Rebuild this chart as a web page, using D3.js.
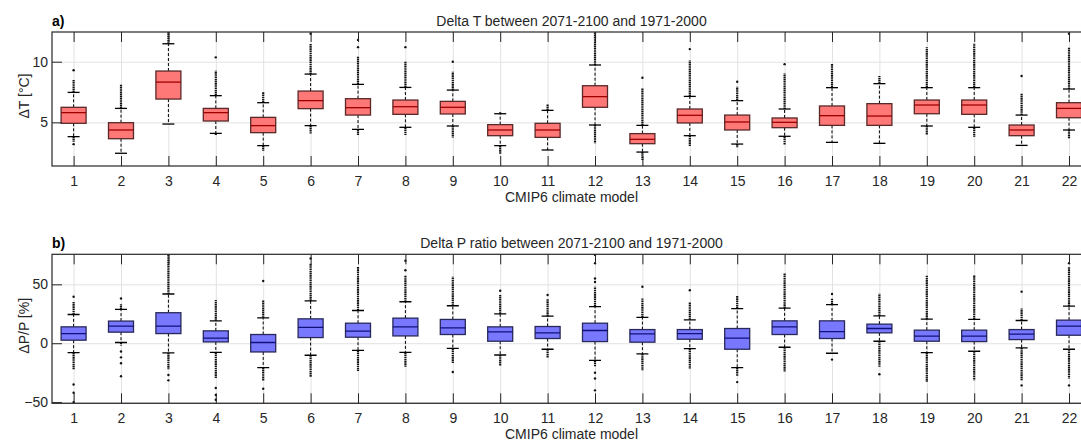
<!DOCTYPE html>
<html>
<head>
<meta charset="utf-8">
<script src="https://cdn.jsdelivr.net/npm/d3@7"></script>
<style>
  body { margin: 0; background: #fff; }
  text { font-family: "Liberation Sans", Arial, sans-serif; fill: #262626; }
</style>
</head>
<body>
<div class="chartDiv"></div>
<script>
"use strict"

// categories
var models = [1, 2, 3, 4, 5, 6, 7, 8, 9, 10, 11, 12, 13, 14, 15, 16, 17, 18, 19, 20, 21, 22];

// Delta T [°C]
var dtQ3     = [6.24, 4.97, 9.23, 6.15, 5.41, 7.58, 6.95, 6.84, 6.73, 4.81, 4.92, 8.02, 4.07, 6.10, 5.60, 5.36, 6.35, 6.54, 6.84, 6.84, 4.78, 6.62];
var dtMedian = [5.80, 4.37, 8.32, 5.80, 4.73, 6.79, 6.21, 6.29, 6.24, 4.37, 4.37, 7.12, 3.60, 5.58, 5.03, 5.00, 5.55, 5.52, 6.43, 6.43, 4.37, 6.15];
var dtQ1     = [4.92, 3.65, 6.92, 5.11, 4.15, 6.13, 5.60, 5.66, 5.69, 3.90, 3.76, 6.24, 3.24, 4.95, 4.37, 4.56, 4.75, 4.75, 5.71, 5.66, 3.90, 5.38];
var dtWhiskHi = [7.47, 6.15, 11.48, 7.20, 6.62, 8.98, 8.13, 7.88, 7.66, 5.71, 5.99, 9.73, 4.75, 7.14, 6.79, 6.10, 7.86, 8.19, 7.86, 7.86, 5.60, 7.75];
var dtWhiskLo = [3.82, 2.45, 4.86, 4.09, 3.08, 4.73, 4.42, 4.59, 4.70, 3.08, 2.72, 4.78, 2.55, 3.90, 3.21, 3.85, 3.35, 3.27, 4.70, 4.59, 3.10, 4.37];
var dtOutHi  = [8.5, 8.1, 12.5, 9.26, 7.53, 11.5, 10.4, 10.0, 9.18, 5.9, 6.48, 12.5, 7.8, 10.1, 7.94, 9.04, 9.86, 8.82, 11.2, 11.5, 7.39, 11.2];
var dtOutLo  = [3.4, 2.45, 4.86, 3.95, 2.66, 4.09, 3.95, 3.95, 3.76, 2.39, 2.72, 3.27, 1.9, 3.0, 2.94, 3.13, 3.35, 3.27, 3.95, 3.82, 3.10, 3.68];
var dtFarHi  = [[9.3], [], [], [10.36], [], [12.3], [11.2, 11.8], [11.2], [10.0], [], [], [], [8.68], [11.04], [8.35], [9.8], [], [], [], [], [8.82], [12.3]];
var dtFarLo  = [[3.2], [], [], [], [], [], [], [], [], [], [], [], [], [], [], [], [], [], [], [], [], []];

// Delta P / P [%]
var dpQ3     = [13.9, 18.8, 25.9, 10.5, 7.4, 20.7, 17.0, 21.3, 20.2, 13.9, 14.2, 17.0, 11.6, 11.6, 12.5, 19.0, 19.0, 16.2, 11.1, 11.1, 11.6, 19.6];
var dpMedian = [8.2, 14.5, 14.5, 4.3, 0.6, 13.4, 10.2, 13.9, 13.1, 9.7, 8.8, 10.8, 8.0, 8.2, 4.3, 13.9, 9.9, 12.5, 6.0, 6.0, 7.7, 14.5];
var dpQ1     = [2.6, 9.4, 8.2, 1.1, -7.4, 4.8, 5.1, 6.2, 7.4, 1.7, 4.0, 1.4, 0.9, 3.4, -5.1, 7.4, 4.0, 8.8, 1.7, 1.4, 3.1, 6.8];
var dpWhiskHi = [24.4, 28.7, 41.8, 19.0, 21.6, 36.0, 27.8, 35.2, 31.8, 25.0, 23.0, 31.0, 21.9, 19.9, 29.3, 29.8, 32.7, 23.3, 20.5, 20.2, 19.3, 31.5];
var dpWhiskLo = [-8.0, 0.6, -8.2, -7.7, -20.7, -10.2, -6.0, -7.7, -4.3, -10.0, -5.1, -14.5, -9.1, -4.5, -20.7, -3.4, -8.5, 1.7, -8.0, -6.8, -4.0, -5.1];
var dpOutHi  = [35, 33, 76, 36.6, 36.6, 68, 65, 58, 56.5, 41, 38, 48, 38, 35, 40, 59.4, 38, 42.3, 58, 58, 29.5, 65];
var dpOutLo  = [-22, -2, -22, -30, -32, -28.7, -23.6, -20, -17, -19.3, -12.5, -20, -23, -21.6, -28, -24.4, -8.5, -20, -33, -31.5, -32, -30];
var dpFarHi  = [[39.5], [38], [], [], [52.8], [72], [], [62, 70], [], [44.6], [41], [52, 55, 68, 75], [48], [45], [], [], [41.8], [], [], [], [43.8], [68]];
var dpFarLo  = [[-35, -42, -50], [-7, -12, -17, -28], [-27, -31.5], [-38, -44, -48], [-38.6], [], [], [], [-24.4], [], [], [-25, -30, -40], [], [], [-33], [], [-13.9], [-26.4], [], [], [-35.8], [-35.8]];

// tick labels
var dtTicks = [5, 10];
var dpTicks = [-50, 0, 50];

var width = 1081;
var height = 442;
var plotLeft = 52;
var plotRight = 1091;
var tickLen = 10;

var svgContainer = d3.select(".chartDiv").append("svg")
                    .attr("width", width)
                    .attr("height", height)
                    .attr("viewBox", "0 0 " + width + " " + height);

var xScale = d3.scaleLinear()
                .domain([1, 22])
                .range([73.6, 1069]);

var boxW = 25;
var capW = 12;

function drawPanel(opts)
{
    var top = opts.top, bottom = opts.bottom;
    var yScale = d3.scaleLinear().domain(opts.yDomain).range([bottom, top]);
    var g = svgContainer.append("g").attr("class", "panel " + opts.id);

    var clipId = "clip-" + opts.id;
    g.append("clipPath").attr("id", clipId)
        .append("rect")
        .attr("x", plotLeft).attr("y", top)
        .attr("width", plotRight - plotLeft).attr("height", bottom - top);

    // grid
    g.append("g")
        .attr("transform", "translate(0," + bottom + ")")
        .call(d3.axisBottom(xScale).tickValues(models).tickSize(-(bottom - top)).tickFormat(""))
        .call(function(s) { s.select(".domain").remove(); s.selectAll("line").attr("stroke", "#e2e2e2").attr("stroke-width", 1); });
    g.append("g")
        .attr("transform", "translate(" + plotLeft + ",0)")
        .call(d3.axisLeft(yScale).tickValues(opts.ticks).tickSize(-(plotRight - plotLeft)).tickFormat(""))
        .call(function(s) { s.select(".domain").remove(); s.selectAll("line").attr("stroke", "#e2e2e2").attr("stroke-width", 1); });

    var data = models.map(function(m, i)
    {
        return {m: m, q1: opts.q1[i], med: opts.med[i], q3: opts.q3[i], wLo: opts.wLo[i], wHi: opts.wHi[i],
                oLo: opts.oLo[i], oHi: opts.oHi[i], fHi: opts.fHi[i], fLo: opts.fLo[i]};
    });

    var marks = g.append("g").attr("clip-path", "url(#" + clipId + ")");

    var boxes = marks.selectAll(".boxGroup")
                    .data(data)
                    .enter()
                    .append("g")
                    .attr("class", "boxGroup")
                    .attr("transform", function(d) { return "translate(" + xScale(d.m) + ",0)" });

    // dense outlier runs
    boxes.append("line")
        .attr("y1", function(d) { return yScale(d.wHi) }).attr("y2", function(d) { return yScale(d.oHi) })
        .attr("stroke", "#111").attr("stroke-width", 2.2)
        .attr("stroke-dasharray", "1.6,0.6");
    boxes.append("line")
        .attr("y1", function(d) { return yScale(d.wLo) }).attr("y2", function(d) { return yScale(d.oLo) })
        .attr("stroke", "#111").attr("stroke-width", 2.2)
        .attr("stroke-dasharray", "1.6,0.6");

    // isolated outliers
    boxes.each(function(d)
    {
        d3.select(this).selectAll(".far")
            .data(d.fHi.concat(d.fLo))
            .enter()
            .append("circle")
            .attr("class", "far")
            .attr("cy", function(v) { return yScale(v) })
            .attr("r", 1.2)
            .attr("fill", "#111");
    });

    // whiskers
    boxes.append("line")
        .attr("y1", function(d) { return yScale(d.q3) }).attr("y2", function(d) { return yScale(d.wHi) })
        .attr("stroke", "#000").attr("stroke-width", 1).attr("stroke-dasharray", "3,2");
    boxes.append("line")
        .attr("y1", function(d) { return yScale(d.q1) }).attr("y2", function(d) { return yScale(d.wLo) })
        .attr("stroke", "#000").attr("stroke-width", 1).attr("stroke-dasharray", "3,2");
    boxes.append("line")
        .attr("x1", -capW / 2).attr("x2", capW / 2)
        .attr("y1", function(d) { return yScale(d.wHi) }).attr("y2", function(d) { return yScale(d.wHi) })
        .attr("stroke", "#000").attr("stroke-width", 1.3);
    boxes.append("line")
        .attr("x1", -capW / 2).attr("x2", capW / 2)
        .attr("y1", function(d) { return yScale(d.wLo) }).attr("y2", function(d) { return yScale(d.wLo) })
        .attr("stroke", "#000").attr("stroke-width", 1.3);

    // boxes
    boxes.append("rect")
        .attr("x", -boxW / 2).attr("width", boxW)
        .attr("y", function(d) { return yScale(d.q3) })
        .attr("height", function(d) { return yScale(d.q1) - yScale(d.q3) })
        .attr("fill", opts.fill)
        .attr("stroke", opts.edge).attr("stroke-width", 1.3);
    boxes.append("line")
        .attr("x1", -boxW / 2).attr("x2", boxW / 2)
        .attr("y1", function(d) { return yScale(d.med) }).attr("y2", function(d) { return yScale(d.med) })
        .attr("stroke", opts.medColor).attr("stroke-width", 1.3);

    // axes with inside ticks
    var axisColor = "#262626";
    var xAxis = g.append("g")
        .attr("transform", "translate(0," + bottom + ")")
        .call(d3.axisBottom(xScale).tickValues(models).tickSizeInner(-tickLen).tickSizeOuter(0).tickPadding(10).tickFormat(d3.format("d")));
    xAxis.select(".domain").remove();
    xAxis.selectAll("line").attr("stroke", axisColor);
    xAxis.selectAll("text").attr("font-size", 14).attr("fill", axisColor)
        .attr("font-family", "'Liberation Sans', Arial, sans-serif");

    var xAxisTop = g.append("g")
        .attr("transform", "translate(0," + top + ")")
        .call(d3.axisTop(xScale).tickValues(models).tickSizeInner(-tickLen).tickSizeOuter(0).tickFormat(""));
    xAxisTop.select(".domain").remove();
    xAxisTop.selectAll("line").attr("stroke", axisColor);

    var yAxis = g.append("g")
        .attr("transform", "translate(" + plotLeft + ",0)")
        .call(d3.axisLeft(yScale).tickValues(opts.ticks).tickSizeInner(-tickLen).tickSizeOuter(0).tickPadding(4));
    yAxis.select(".domain").remove();
    yAxis.selectAll("line").attr("stroke", axisColor);
    yAxis.selectAll("text").attr("font-size", 14).attr("fill", axisColor)
        .attr("font-family", "'Liberation Sans', Arial, sans-serif");

    var yAxisRight = g.append("g")
        .attr("transform", "translate(" + plotRight + ",0)")
        .call(d3.axisRight(yScale).tickValues(opts.ticks).tickSizeInner(-tickLen).tickSizeOuter(0).tickFormat(""));
    yAxisRight.select(".domain").remove();
    yAxisRight.selectAll("line").attr("stroke", axisColor);

    g.append("rect")
        .attr("x", plotLeft).attr("y", top)
        .attr("width", plotRight - plotLeft).attr("height", bottom - top)
        .attr("fill", "none").attr("stroke", axisColor).attr("stroke-width", 1.2);

    // labels
    g.append("text")
        .text(opts.title)
        .attr("x", (plotLeft + plotRight) / 2).attr("y", top - 6)
        .attr("text-anchor", "middle").attr("font-size", 14);
    g.append("text")
        .text(opts.letter)
        .attr("x", plotLeft).attr("y", top - 6)
        .attr("font-size", 14).attr("font-weight", "bold").style("fill", "#000");
    g.append("text")
        .text("CMIP6 climate model")
        .attr("x", (plotLeft + plotRight) / 2).attr("y", bottom + 36)
        .attr("text-anchor", "middle").attr("font-size", 14);
    g.append("text")
        .text(opts.yLabel)
        .attr("transform", "translate(" + 29 + "," + ((top + bottom) / 2 - 3) + ") rotate(-90)")
        .attr("text-anchor", "middle").attr("font-size", 14);
}

drawPanel({
    id: "dT", top: 32, bottom: 166, yDomain: [1.4, 12.45], ticks: dtTicks,
    q1: dtQ1, med: dtMedian, q3: dtQ3, wLo: dtWhiskLo, wHi: dtWhiskHi,
    oLo: dtOutLo, oHi: dtOutHi, fHi: dtFarHi, fLo: dtFarLo,
    fill: "#ff7878", edge: "#5a2828", medColor: "#9e0000",
    title: "Delta T between 2071-2100 and 1971-2000", letter: "a)", yLabel: "\u0394T [\u00b0C]"
});

drawPanel({
    id: "dP", top: 254.3, bottom: 403.3, yDomain: [-51, 75.5], ticks: dpTicks,
    q1: dpQ1, med: dpMedian, q3: dpQ3, wLo: dpWhiskLo, wHi: dpWhiskHi,
    oLo: dpOutLo, oHi: dpOutHi, fHi: dpFarHi, fLo: dpFarLo,
    fill: "#7878ff", edge: "#28285a", medColor: "#10107a",
    title: "Delta P ratio between 2071-2100 and 1971-2000", letter: "b)", yLabel: "\u0394P/P [%]"
});
</script>
</body>
</html>
